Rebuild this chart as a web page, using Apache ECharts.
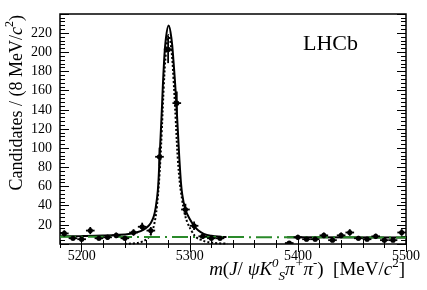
<!DOCTYPE html>
<html><head><meta charset="utf-8">
<script src="https://cdn.jsdelivr.net/npm/echarts@6/dist/echarts.min.js"></script>
<style>html,body{margin:0;padding:0;background:#fff}#c{width:427px;height:290px}</style>
</head><body><div id="c"></div>
<script>
// Bin centres (8 MeV bins) and counts; empty bins are not drawn
const binCenters = [5184,5192,5200,5208,5216,5224,5232,5240,5248,5256,5264,5272,5280,5288,5296,5304,5312,5320,5328,5392,5400,5408,5416,5424,5432,5440,5448,5456,5464,5472,5480,5488,5496];
const counts     = [11,6,5,14,6,7,9,6,12,18,14,91,203,147,36,19,8,6,6,1,7,5,5,9,4,9,12,6,5,8,4,4,12];
const binHalfWidth = 4;

// Fit curves (mass, candidates per bin)
const totalMass = [5180,5200,5220,5235,5245,5252,5257,5261,5264,5266.5,5268.5,5270.5,5272,5274,5276,5278,5280.5,5283,5285,5287,5289,5291,5293,5296,5300,5304,5308,5313,5320,5328,5334];
const totalVal  = [8.0,8.3,8.8,9.6,10.8,12.5,14.8,18,22,28,38,56,88,135,185,215,228,215,190,158,118,78,52,36,26,19,14,10.5,8.5,7.6,7.4];
const totalMass2 = [5390,5500];
const totalVal2  = [7.1,6.8];
const sigMass = [5240,5250,5255,5260,5264,5267,5269.5,5272,5274,5276,5278,5280.5,5283,5285,5287,5289,5291,5293,5295,5298,5302,5306,5310,5315,5322,5335];
const sigVal  = [0.2,0.8,2,5,10,20,38,72,115,165,200,218,203,172,130,88,62,46,33,22,13,7,4.5,2.5,1.2,0.3];
const bkgMass = [5180,5500];
const bkgVal  = [7.6,6.8];

const xMin = 5180, xMax = 5500, yMin = 0, yMax = 240;
const xMajorTicks = [5200,5300,5400,5500];
const yLabelTicks = [20,40,60,80,100,120,140,160,180,200,220];

const xMinorTicks = []; for (let v = xMin; v <= xMax; v += 20) xMinorTicks.push(v);
const yMajorTicks = []; for (let v = yMin; v <= yMax; v += 20) yMajorTicks.push(v);
const yMinorTicks = []; for (let v = yMin; v <= yMax; v += 4) yMinorTicks.push(v);

const SERIF = '"Liberation Serif","DejaVu Serif",serif';
const pairs = (a, b) => a.map((v, i) => [v, b[i]]);

function xAx(pos, ticks, len, labels) {
  return {
    type: 'value', min: xMin, max: xMax, position: pos,
    axisLine: {show: false}, splitLine: {show: false},
    axisTick: {show: true, inside: true, length: len, customValues: ticks, lineStyle: {color: '#000', width: 1}},
    axisLabel: labels ? {show: true, customValues: labels, formatter: v => String(v), color: '#000', fontFamily: SERIF, fontSize: 14, margin: 5} : {show: false}
  };
}
function yAx(pos, ticks, len, labels) {
  return {
    type: 'value', min: yMin, max: yMax, position: pos,
    axisLine: {show: false}, splitLine: {show: false},
    axisTick: {show: true, inside: true, length: len, customValues: ticks, lineStyle: {color: '#000', width: 1}},
    axisLabel: labels ? {show: true, customValues: labels, formatter: v => String(v), color: '#000', fontFamily: SERIF, fontSize: 14, margin: 8} : {show: false}
  };
}

const chart = echarts.init(document.getElementById('c'), null, {renderer: 'canvas'});
const mainR = {fontFamily: SERIF, fontSize: 18, color: '#000', lineHeight: 26};
const mainI = Object.assign({}, mainR, {fontStyle: 'italic'});
const xR = Object.assign({}, mainR, {fontSize: 19});
const xI = Object.assign({}, xR, {fontStyle: 'italic'});
const supS = {fontFamily: SERIF, fontSize: 12, color: '#000', lineHeight: 12, verticalAlign: 'top'};
const supX = Object.assign({}, supS, {fontSize: 13});
const supI = Object.assign({}, supX, {fontStyle: 'italic'});
const subI = {fontFamily: SERIF, fontSize: 13, color: '#000', lineHeight: 12, verticalAlign: 'bottom', fontStyle: 'italic'};

chart.setOption({
  animation: false,
  backgroundColor: '#fff',
  grid: {left: 60, right: 21, top: 14, bottom: 46, show: true, borderColor: '#000', borderWidth: 1.5, backgroundColor: 'transparent'},
  xAxis: [xAx('bottom', xMajorTicks, 8, xMajorTicks), xAx('bottom', xMinorTicks, 4), xAx('top', xMajorTicks, 8), xAx('top', xMinorTicks, 4)],
  yAxis: [yAx('left', yMajorTicks, 9, yLabelTicks), yAx('left', yMinorTicks, 5), yAx('right', yMajorTicks, 9), yAx('right', yMinorTicks, 5)],
  series: [
    {type: 'line', data: pairs(sigMass, sigVal), showSymbol: false, smooth: 0.4, lineStyle: {color: '#000', width: 2, type: [2, 2]}, z: 2},
    {type: 'line', data: pairs(totalMass, totalVal), showSymbol: false, smooth: 0.4, lineStyle: {color: '#000', width: 2}, z: 3},
    {type: 'line', data: pairs(totalMass2, totalVal2), showSymbol: false, lineStyle: {color: '#000', width: 2}, z: 3},
    {type: 'line', data: pairs(bkgMass, bkgVal), showSymbol: false, lineStyle: {color: '#2a8a2a', width: 2, type: [16, 5, 2, 5]}, z: 4},
    {type: 'custom', z: 5, clip: true,
     data: binCenters.map((x, i) => [x, counts[i], Math.sqrt(counts[i])]),
     renderItem: function (params, api) {
       const x = api.value(0), y = api.value(1), e = api.value(2);
       const c = api.coord([x, y]);
       const l = api.coord([x - binHalfWidth, y]), r = api.coord([x + binHalfWidth, y]);
       const t = api.coord([x, y + e]), b = api.coord([x, y - e]);
       const st = {stroke: '#000', lineWidth: 1.8};
       return {type: 'group', children: [
         {type: 'line', shape: {x1: l[0], y1: l[1], x2: r[0], y2: r[1]}, style: st},
         {type: 'line', shape: {x1: t[0], y1: t[1], x2: b[0], y2: b[1]}, style: st},
         {type: 'circle', shape: {cx: c[0], cy: c[1], r: 2.6}, style: {fill: '#000'}}
       ]};
     }}
  ],
  graphic: [
    {type: 'text', x: 303, y: 44, style: {text: 'LHCb', fontFamily: SERIF, fontSize: 22, fill: '#000', align: 'left', verticalAlign: 'middle'}},
    {type: 'text', x: 405, y: 270, style: {
      text: '{i|m}{r|(}{i|J}{r|/ }{i|ψK}{sp|0}{sb|S}{i|π}{sp|+}{i|π}{sp|-}{r|)  [MeV/}{i|c}{su|2}{r|]}',
      align: 'right', verticalAlign: 'middle',
      rich: {r: xR, i: xI, sp: supI, sb: subI, su: supX}}},
    {type: 'text', x: 17, y: 15, rotation: Math.PI / 2, style: {
      text: '{r|Candidates / (8 MeV/}{i|c}{su|2}{r|)}',
      align: 'right', verticalAlign: 'middle',
      rich: {r: mainR, i: mainI, su: supS}}}
  ]
});
</script></body></html>
